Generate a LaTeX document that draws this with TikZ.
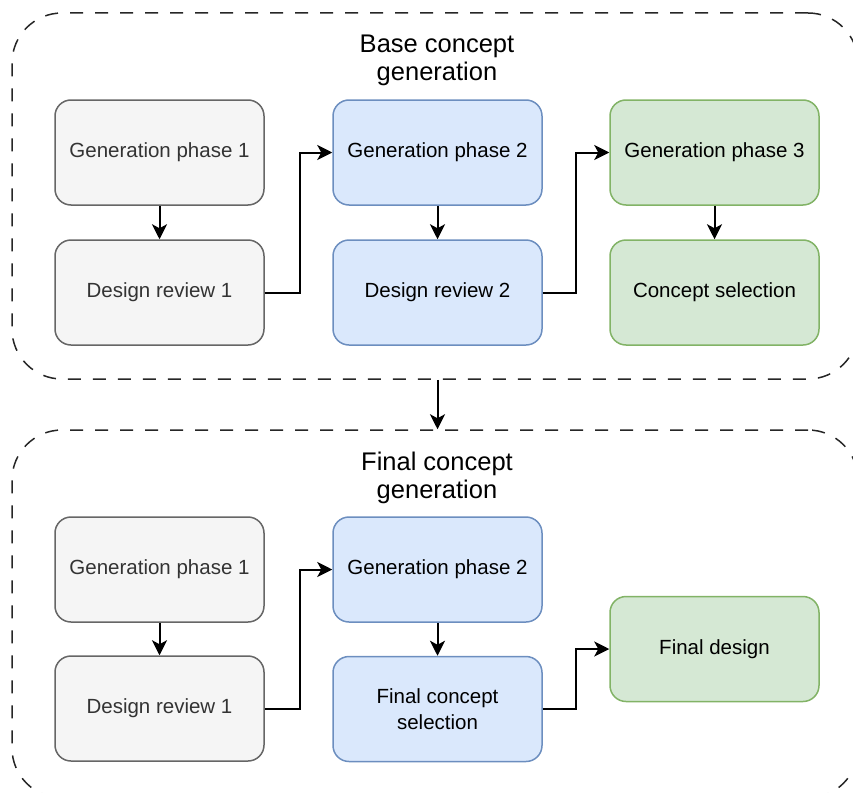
\documentclass[tikz,border=0pt]{standalone}
\usepackage{fontspec}
\setmainfont{Liberation Sans}
\usetikzlibrary{arrows.meta,calc}

\definecolor{grayfill}{HTML}{F5F5F5}
\definecolor{graydraw}{HTML}{666666}
\definecolor{graytext}{HTML}{333333}
\definecolor{bluefill}{HTML}{DAE8FC}
\definecolor{bluedraw}{HTML}{6C8EBF}
\definecolor{greenfill}{HTML}{D5E8D4}
\definecolor{greendraw}{HTML}{82B366}

\tikzset{
  stage/.style={rectangle, rounded corners=16pt, line width=1.5pt,
    minimum width=209pt, minimum height=105pt, align=center,
    font=\fontsize{20.5}{26}\selectfont},
  graystage/.style={stage, fill=grayfill, draw=graydraw, text=graytext},
  bluestage/.style={stage, fill=bluefill, draw=bluedraw, text=black},
  greenstage/.style={stage, fill=greenfill, draw=greendraw, text=black},
  group/.style={rectangle, rounded corners=50pt, draw=black!85, line width=1.5pt,
    dash pattern=on 13pt off 12pt, inner sep=0pt},
  grouptitle/.style={align=center, font=\fontsize{25.5}{28}\selectfont, anchor=base},
  flow/.style={draw=black, line width=2pt,
    -{Stealth[length=15pt, width=15pt, inset=4pt]}},
}

\begin{document}
\begin{tikzpicture}[x=1pt, y=-1pt]
\useasboundingbox (0,0) rectangle (853,792);
\clip (0,0) rectangle (853,792);

% dashed group frames
\node[group, minimum width=846pt, minimum height=366pt] (base) at (435,196) {};
\node[group, minimum width=846pt, minimum height=368pt] (final) at (435,614) {};

% group titles (anchored on the baseline of the second line)
\node[grouptitle] (basetitle) at (437,80) {Base concept\\generation};
\node[grouptitle] (finaltitle) at (437,498) {Final concept\\generation};

% base concept generation
\node[graystage] (gpa) at (159.5,152.5) {Generation phase 1};
\node[graystage] (dra) at (159.5,292.5) {Design review 1};
\node[bluestage] (gpb) at (437.5,152.5) {Generation phase 2};
\node[bluestage] (drb) at (437.5,292.5) {Design review 2};
\node[greenstage] (gpc) at (714.5,152.5) {Generation phase 3};
\node[greenstage] (csel) at (714.5,292.5) {Concept selection};

% final concept generation
\node[graystage] (fgpa) at (159.5,569.5) {Generation phase 1};
\node[graystage] (fdra) at (159.5,708.5) {Design review 1};
\node[bluestage] (fgpb) at (437.5,569.5) {Generation phase 2};
\node[bluestage] (fcs) at (437.5,709) {Final concept\\selection};
\node[greenstage] (fdes) at (714.5,649) {Final design};

% connectors
\draw[flow] (gpa) -- (dra);
\draw[flow] (dra.east) -- ++(35,0) |- (gpb.west);
\draw[flow] (gpb) -- (drb);
\draw[flow] (drb.east) -- ++(33,0) |- (gpc.west);
\draw[flow] (gpc) -- (csel);

\draw[flow] (base.south -| drb.south) -- (final.north -| drb.south);

\draw[flow] (fgpa) -- (fdra);
\draw[flow] (fdra.east) -- ++(35,0) |- (fgpb.west);
\draw[flow] (fgpb) -- (fcs);
\draw[flow] (fcs.east) -- ++(33,0) |- (fdes.west);
\end{tikzpicture}
\end{document}
